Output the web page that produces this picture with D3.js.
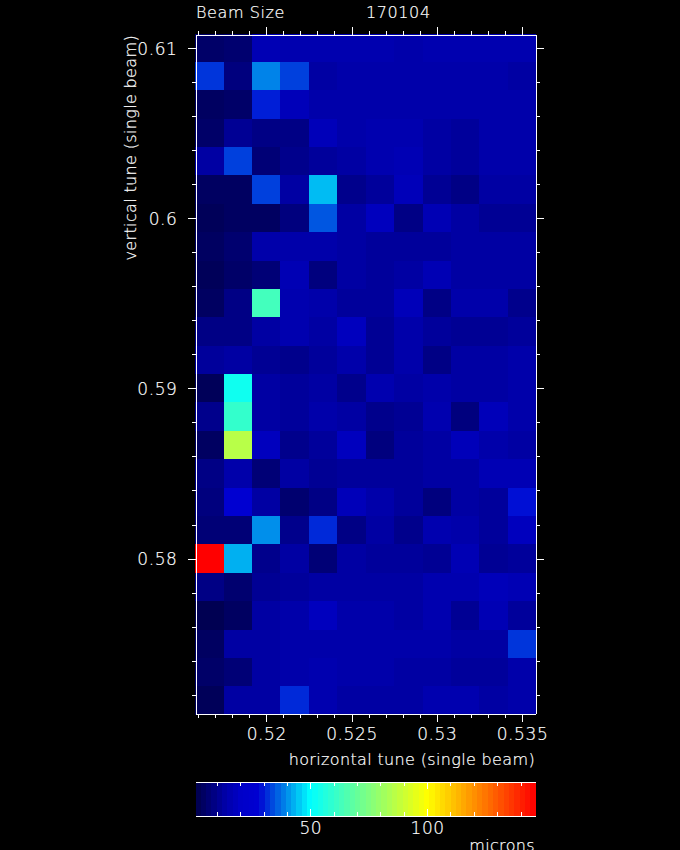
<!DOCTYPE html>
<html>
<head>
<meta charset="utf-8">
<script src="https://cdn.jsdelivr.net/npm/d3@7"></script>
<style>
html, body { margin: 0; background: #000; overflow: hidden; }
text { font-family: "DejaVu Sans"; font-weight: 200; font-size: 16px; fill: #fff; stroke: #fff; stroke-width: 0.2px; letter-spacing: 0.35px; }
.tick text { font-size: 17px; letter-spacing: 0.6px; }
.title { letter-spacing: 0.6px; }
line, path.domain { stroke: #fff; shape-rendering: crispEdges; }
rect { shape-rendering: crispEdges; }
</style>
</head>
<body>
<svg id="chart" width="680" height="850"></svg>
<script>
const hTune = [0.5167, 0.5183, 0.52, 0.5217, 0.5233, 0.525, 0.5267, 0.5283, 0.53, 0.5317, 0.5333, 0.535];
const vTune = [0.61, 0.6083, 0.6067, 0.605, 0.6033, 0.6017, 0.6, 0.5983, 0.5967, 0.595, 0.5933, 0.5917,
    0.59, 0.5883, 0.5867, 0.585, 0.5833, 0.5817, 0.58, 0.5783, 0.5767, 0.575, 0.5733, 0.5717];

// beam size in microns, one line per vertical tune, top row first
const beamSize = [
    [5, 6, 16, 15, 15, 15, 15, 14, 15, 15, 15, 15],
    [32, 8, 39, 33, 13, 14, 14, 14, 14, 14, 14, 13],
    [4, 5, 30, 17, 14, 14, 14, 14, 14, 14, 14, 14],
    [5, 11, 9, 9, 17, 14, 15, 15, 13, 12, 14, 14],
    [13, 33, 7, 10, 12, 13, 15, 16, 13, 12, 14, 14],
    [4, 4, 33, 13, 44, 10, 12, 17, 11, 9, 13, 13],
    [3, 4, 4, 8, 35, 13, 18, 9, 16, 13, 11, 11],
    [4, 6, 14, 14, 14, 13, 12, 12, 12, 13, 13, 13],
    [3, 5, 7, 16, 8, 13, 12, 13, 16, 13, 13, 13],
    [4, 9, 63, 15, 14, 12, 12, 17, 9, 14, 14, 10],
    [9, 9, 13, 15, 13, 18, 11, 14, 12, 11, 11, 12],
    [12, 13, 11, 10, 12, 14, 11, 14, 9, 13, 13, 14],
    [3, 53, 13, 12, 13, 10, 15, 13, 14, 13, 13, 14],
    [10, 60, 13, 12, 14, 13, 10, 11, 15, 8, 17, 14],
    [4, 86, 18, 10, 12, 18, 8, 12, 13, 17, 14, 13],
    [9, 14, 7, 13, 11, 12, 12, 12, 13, 13, 16, 16],
    [8, 27, 13, 6, 9, 17, 14, 12, 8, 13, 12, 29],
    [7, 7, 40, 10, 31, 9, 13, 10, 15, 14, 12, 18],
    [146, 43, 10, 13, 7, 13, 12, 12, 11, 16, 11, 12],
    [9, 6, 11, 12, 13, 13, 13, 13, 15, 15, 17, 16],
    [2, 4, 13, 14, 18, 14, 14, 13, 15, 11, 16, 12],
    [4, 13, 13, 14, 14, 14, 14, 14, 14, 13, 13, 32],
    [5, 7, 13, 14, 15, 14, 14, 13, 13, 12, 12, 14],
    [3, 13, 13, 31, 15, 13, 13, 13, 15, 15, 13, 14]
];

const xTicks = [0.52, 0.525, 0.53, 0.535];
const xMinor = [0.516, 0.517, 0.518, 0.519, 0.521, 0.522, 0.523, 0.524, 0.526, 0.527, 0.528, 0.529, 0.531, 0.532, 0.533, 0.534];
const yTicks = [0.61, 0.6, 0.59, 0.58];
const yMinor = [0.608, 0.606, 0.604, 0.602, 0.598, 0.596, 0.594, 0.592, 0.588, 0.586, 0.584, 0.582, 0.578, 0.576, 0.574, 0.572];
const barMajor = [50, 100];
const barMinor = [10, 20, 30, 40, 60, 70, 80, 90, 110, 120, 130, 140];

const colorStops = [1, 10, 14, 20, 28, 30, 50, 75, 100, 146];
const colorValues = ["rgb(0,0,75)", "rgb(0,0,140)", "rgb(0,0,170)", "rgb(0,0,200)", "rgb(0,0,210)", "rgb(0,30,215)", "rgb(0,255,255)", "rgb(128,255,128)", "rgb(255,255,0)", "rgb(255,0,0)"];
const nLevels = 64;

const svg = d3.select("#chart");

const x = d3.scaleLinear().domain([0.51585, 0.53579]).range([195.5, 535.5]);
const y = d3.scaleLinear().domain([0.61078, 0.57090]).range([34.5, 713.5]);
const barX = d3.scaleLinear().domain([0.84, 146.4]).range([195.5, 535.5]);

const ramp = d3.scaleLinear().domain(colorStops).range(colorValues).clamp(true);
const levels = d3.range(nLevels).map(i => barX.domain()[0] + (i + 0.5) * (barX.domain()[1] - barX.domain()[0]) / nLevels);

// cells, edges snapped to whole pixels so no seams show between them
const cellW = x(hTune[2] + 1 / 600) - x(hTune[2]);
const cellH = y(vTune[6] - 1 / 600) - y(vTune[6]);
const cells = [];
beamSize.forEach((row, i) => row.forEach((v, j) => cells.push({ col: j, row: i, size: v })));
const cellX = j => Math.round(x(0.52 + (j - 2) / 600) - cellW / 2);
const cellY = i => Math.round(y(0.61 - i / 600) - cellH / 2);

svg.append("g").selectAll("rect").data(cells).join("rect")
    .attr("x", d => cellX(d.col))
    .attr("y", d => cellY(d.row))
    .attr("width", d => cellX(d.col + 1) - cellX(d.col))
    .attr("height", d => cellY(d.row + 1) - cellY(d.row))
    .attr("fill", d => ramp(d.size));

// frame + ticks: each side gets a major and a minor axis
function addAxis(axisFn, scale, major, minor, tx, ty, showLabels) {
    svg.append("g").attr("transform", `translate(${tx},${ty})`)
        .call(axisFn(scale).tickValues(minor).tickSize(4).tickSizeOuter(0).tickFormat(""));
    const g = svg.append("g").attr("transform", `translate(${tx},${ty})`)
        .call(axisFn(scale).tickValues(major).tickSize(8).tickSizeOuter(0).tickFormat(showLabels ? d3.format("") : ""));
    g.selectAll("path.domain").attr("fill", "none");
    return g;
}

const xBottom = addAxis(d3.axisBottom, x, xTicks, xMinor, 0, 713.5, true);
xBottom.selectAll("text").attr("y", 0).attr("dy", 0).attr("transform", "translate(0,26)");
addAxis(d3.axisTop, x, xTicks, xMinor, 0, 34.5, false);
const yLeft = addAxis(d3.axisLeft, y, yTicks, yMinor, 195.5, 0, true);
yLeft.selectAll("text").attr("x", -18).attr("dy", "0.37em");
addAxis(d3.axisRight, y, yTicks, yMinor, 535.5, 0, false);

// colour bar
const barTop = 781.5, barBottom = 815.5;
const barW = (barX.range()[1] - barX.range()[0]) / nLevels;
const barEdge = i => Math.round(barX.range()[0] + i * barW);
svg.append("g").selectAll("rect").data(levels).join("rect")
    .attr("x", (d, i) => barEdge(i))
    .attr("y", barTop)
    .attr("width", (d, i) => barEdge(i + 1) - barEdge(i))
    .attr("height", barBottom - barTop)
    .attr("fill", d => ramp(d));

const barAxis = (fn, ty, size, vals, labels) => svg.append("g")
    .attr("transform", `translate(0,${ty})`)
    .call(fn(barX).tickValues(vals).tickSize(size).tickSizeOuter(0).tickFormat(labels ? d3.format("d") : ""));

barAxis(d3.axisBottom, barTop, 4, barMinor, false).select("path.domain").attr("fill", "none");
barAxis(d3.axisBottom, barTop, 7, barMajor, false).select("path.domain").attr("fill", "none");
barAxis(d3.axisTop, barBottom, 4, barMinor, false).select("path.domain").attr("fill", "none");
const barLabelled = barAxis(d3.axisTop, barBottom, 7, barMajor, true);
barLabelled.select("path.domain").attr("fill", "none");
barLabelled.selectAll("text").attr("y", 0).attr("dy", 0).attr("transform", "translate(0,18.5)");

svg.selectAll("g").attr("font-family", null).attr("font-size", null);

// titles
svg.append("text").attr("class", "title").attr("x", 196).attr("y", 18).text("Beam Size");
svg.append("text").attr("class", "title").attr("x", 366).attr("y", 18).text("170104");
svg.append("text").attr("x", 535).attr("y", 765).attr("text-anchor", "end").text("horizontal tune (single beam)");
svg.append("text").attr("x", 535).attr("y", 851).attr("text-anchor", "end").text("microns");
svg.append("text").attr("transform", "translate(136,35) rotate(-90)").attr("text-anchor", "end").text("vertical tune (single beam)");
</script>
</body>
</html>
